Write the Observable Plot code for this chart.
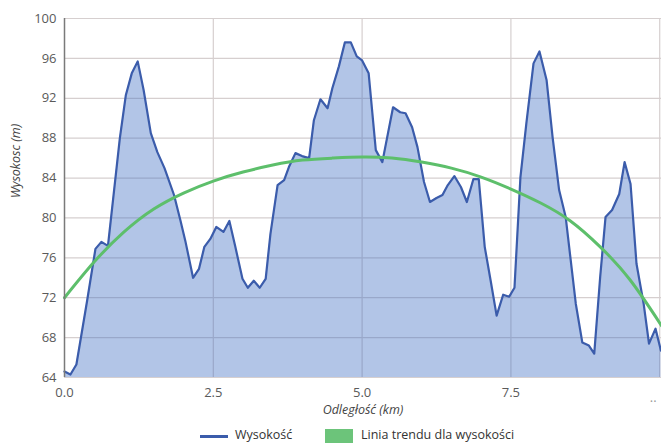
<!DOCTYPE html>
<html>
<head>
<meta charset="utf-8">
<script src="https://cdn.jsdelivr.net/npm/d3@7"></script>
<script src="https://cdn.jsdelivr.net/npm/@observablehq/plot@0.6"></script>
<style>
  body { margin: 0; background: #fff; font-family: "Open Sans", sans-serif; }
  #wrap { position: relative; width: 661px; height: 443px; overflow: hidden; }
  .lg { position: absolute; font-size: 12.5px; color: #333; white-space: nowrap; }
</style>
</head>
<body>
<div id="wrap"></div>
<script>
const distKm = [0.00,0.10,0.20,0.38,0.52,0.62,0.73,0.93,1.03,1.13,1.23,1.33,1.45,1.56,1.68,1.84,1.95,2.03,2.16,2.26,2.35,2.45,2.55,2.67,2.77,2.87,2.99,3.08,3.18,3.28,3.38,3.46,3.58,3.69,3.77,3.88,3.99,4.11,4.19,4.30,4.42,4.50,4.61,4.71,4.81,4.91,5.00,5.11,5.23,5.34,5.52,5.64,5.73,5.84,5.93,6.04,6.14,6.25,6.35,6.44,6.55,6.66,6.76,6.87,6.96,7.06,7.16,7.26,7.37,7.47,7.56,7.66,7.76,7.88,7.98,8.10,8.20,8.31,8.42,8.59,8.70,8.81,8.90,9.00,9.09,9.20,9.32,9.41,9.51,9.61,9.73,9.82,9.93,10.02];
const elevM  = [64.6,64.3,65.3,71.7,76.9,77.6,77.2,88.0,92.3,94.5,95.7,92.8,88.5,86.6,85.0,82.3,79.7,77.7,74.0,74.9,77.1,77.9,79.1,78.6,79.7,77.1,73.9,73.0,73.7,73.0,73.9,78.4,83.3,83.8,85.1,86.5,86.2,86.0,89.8,91.9,91.0,93.0,95.2,97.6,97.6,96.2,95.8,94.5,86.8,85.6,91.1,90.6,90.5,89.1,87.1,83.6,81.6,82.0,82.3,83.3,84.2,83.1,81.6,83.9,83.9,77.1,73.7,70.2,72.3,72.1,73.0,84.1,89.5,95.5,96.7,93.8,88.1,82.8,80.1,71.4,67.5,67.2,66.4,74.1,80.1,80.8,82.4,85.6,83.4,75.4,71.4,67.4,68.9,66.7];

const trendKm = [0,0.5,1,1.5,2,2.5,3,3.5,4,4.5,5,5.5,6,6.5,7,7.5,8,8.5,9,9.5,10.03];
const trendM  = [72.0,75.6,78.6,80.9,82.5,83.7,84.6,85.3,85.8,86.0,86.1,86.0,85.6,85.0,84.1,82.9,81.5,79.7,77.1,73.8,69.2];

const yTicks = [64,68,72,76,80,84,88,92,96,100];
const xTicks = [0,2.5,5,7.5,10];
const xLabel = "Odległość (km)";
const yLabel = "Wysokosc (m)";
const seriesNames = ["Wysokość", "Linia trendu dla wysokości"];

const elev = distKm.map((d, i) => ({x: d, y: elevM[i]}));
const trend = trendKm.map((d, i) => ({x: d, y: trendM[i]}));

const chart = Plot.plot({
  width: 661,
  height: 422,
  marginTop: 18,
  marginBottom: 45,
  marginLeft: 64,
  marginRight: 0,
  style: {fontFamily: "Open Sans, sans-serif", fontSize: "12.5px", color: "#5a5a5a", background: "#fff"},
  x: {domain: [0, 10.03], ticks: xTicks},
  y: {domain: [64, 100], ticks: yTicks},
  marks: [
    Plot.gridY(yTicks, {stroke: "#d6cfcf", strokeOpacity: 1, strokeWidth: 1.2}),
    Plot.gridX([2.5, 5, 7.5, 10], {stroke: "#d6cfcf", strokeOpacity: 1, strokeWidth: 1.2}),
    Plot.areaY(elev, {x: "x", y1: 64, y2: "y", fill: "#3f6fc4", fillOpacity: 0.4}),
    Plot.line(elev, {x: "x", y: "y", stroke: "#3b5cab", strokeWidth: 2.2, strokeLinejoin: "round"}),
    Plot.line(trend, {x: "x", y: "y", stroke: "#5dbf6b", strokeWidth: 3, curve: "natural"}),
    Plot.ruleX([0], {stroke: "#7a7a7a", strokeWidth: 1.5}),
    Plot.axisY(yTicks, {tickSize: 0, tickPadding: 8, fill: "#5a5a5a", fontSize: 13, label: null}),
    Plot.axisX([0, 2.5, 5, 7.5], {tickSize: 0, tickPadding: 10, fill: "#5a5a5a", fontSize: 13, label: null, tickFormat: d => d.toFixed(1)}),
    Plot.text([10], {x: d => d, y: 64, text: () => "..", dy: 20, dx: -3, textAnchor: "end", fill: "#9a9a9a", fontSize: 13}),
    Plot.text([xLabel], {frameAnchor: "bottom", dy: 36, text: d => d, fontStyle: "italic", fill: "#444", fontSize: 12.5}),
    Plot.text([yLabel], {frameAnchor: "left", dx: -49, rotate: -90, text: d => d, fontStyle: "italic", fill: "#444", fontSize: 12.5})
  ]
});

const wrap = document.getElementById("wrap");
chart.style.position = "absolute";
chart.style.left = "0px";
chart.style.top = "0px";
wrap.appendChild(chart);

// legend
const sw1 = document.createElement("div");
Object.assign(sw1.style, {position: "absolute", left: "200px", top: "435px", width: "28px", height: "3px", background: "#3b5cab"});
wrap.appendChild(sw1);
const t1 = document.createElement("div");
t1.className = "lg"; t1.textContent = seriesNames[0];
Object.assign(t1.style, {left: "235px", top: "426px"});
wrap.appendChild(t1);
const sw2 = document.createElement("div");
Object.assign(sw2.style, {position: "absolute", left: "325px", top: "429px", width: "28px", height: "14px", background: "#6cc47a"});
wrap.appendChild(sw2);
const t2 = document.createElement("div");
t2.className = "lg"; t2.textContent = seriesNames[1];
Object.assign(t2.style, {left: "361px", top: "426px"});
wrap.appendChild(t2);
</script>
</body>
</html>
